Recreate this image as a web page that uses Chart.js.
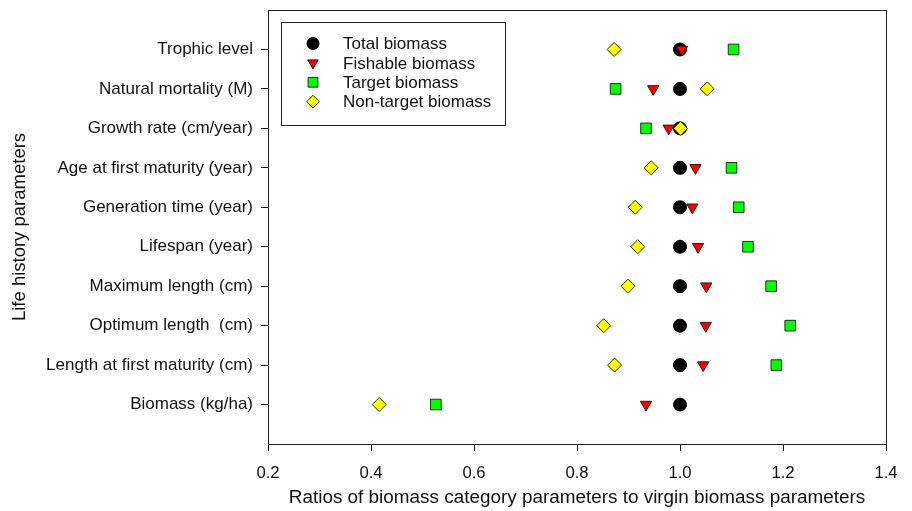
<!DOCTYPE html>
<html>
<head>
<meta charset="utf-8">
<script src="https://cdn.jsdelivr.net/npm/chart.js@4/dist/chart.umd.min.js"></script>
<style>
  html, body { margin: 0; padding: 0; background: #fff; }
  #wrap { width: 912px; height: 511px; position: relative; }
</style>
</head>
<body>
<div id="wrap"><canvas id="chart"></canvas></div>
<script>
// categories, top to bottom
const parameters = [
  'Trophic level',
  'Natural mortality (M)',
  'Growth rate (cm/year)',
  'Age at first maturity (year)',
  'Generation time (year)',
  'Lifespan (year)',
  'Maximum length (cm)',
  'Optimum length  (cm)',
  'Length at first maturity (cm)',
  'Biomass (kg/ha)'
];

const totalBiomass     = [1.000, 1.000, 1.000, 1.000, 1.000, 1.000, 1.000, 1.000, 1.000, 1.000];
const fishableBiomass  = [1.004, 0.948, 0.978, 1.030, 1.024, 1.035, 1.051, 1.050, 1.045, 0.934];
const targetBiomass    = [1.104, 0.875, 0.934, 1.100, 1.114, 1.132, 1.177, 1.214, 1.187, 0.526];
const nonTargetBiomass = [0.872, 1.053, 1.001, 0.944, 0.913, 0.918, 0.899, 0.852, 0.873, 0.416];

const xTicks = [0.2, 0.4, 0.6, 0.8, 1.0, 1.2, 1.4];

const FONT = 'Liberation Sans, Arial, sans-serif';

// y position 10 (top) .. 1 (bottom)
function toPoints(values) {
  return values.map((v, i) => ({ x: v, y: parameters.length - i }));
}

const series = [
  { label: 'Total biomass', data: totalBiomass, pointStyle: 'circle', radius: 6.5, rotation: 0, bg: '#000000', border: '#000000', order: 3 },
  { label: 'Fishable biomass', data: fishableBiomass, pointStyle: 'triangle', radius: 6.5, rotation: 180, bg: '#ff0000', border: '#3a1010', order: 2 },
  { label: 'Target biomass', data: targetBiomass, pointStyle: 'rect', radius: 7.5, rotation: 0, bg: '#00ff00', border: '#1d331d', order: 1 },
  { label: 'Non-target biomass', data: nonTargetBiomass, pointStyle: 'rectRot', radius: 7, rotation: 0, bg: '#ffff00', border: '#333300', order: 0 }
];

// box around plot area
const framePlugin = {
  id: 'frame',
  afterDraw(chart) {
    const { ctx, chartArea: a } = chart;
    ctx.save();
    ctx.strokeStyle = '#222';
    ctx.lineWidth = 1;
    ctx.strokeRect(a.left + 0.5, a.top + 0.5, a.right - a.left, a.bottom - a.top);
    ctx.restore();
  }
};

// legend in upper left corner of the plot
const boxLegend = {
  id: 'boxLegend',
  afterDraw(chart) {
    const ctx = chart.ctx;
    const left = 281, top = 22, width = 224, height = 103;
    ctx.save();
    ctx.fillStyle = '#fff';
    ctx.fillRect(left, top, width, height);
    ctx.strokeStyle = '#222';
    ctx.lineWidth = 1;
    ctx.strokeRect(left + 0.5, top + 0.5, width, height);
    ctx.font = '17px ' + FONT;
    ctx.textBaseline = 'middle';
    series.forEach((s, i) => {
      const y = 43.5 + i * 19.4;
      ctx.fillStyle = s.bg;
      ctx.strokeStyle = s.border;
      ctx.lineWidth = 1;
      Chart.helpers.drawPoint(ctx, { pointStyle: s.pointStyle, rotation: s.rotation, radius: s.radius * 0.92, borderWidth: 1 }, 313, y);
      ctx.fillStyle = '#111';
      ctx.fillText(s.label, 343, y + 1);
    });
    ctx.restore();
  }
};

new Chart(document.getElementById('chart'), {
  type: 'scatter',
  data: {
    datasets: series.map(s => ({
      label: s.label,
      data: toPoints(s.data),
      pointStyle: s.pointStyle,
      pointRadius: s.radius,
      pointRotation: s.rotation,
      pointBackgroundColor: s.bg,
      pointBorderColor: s.border,
      pointBorderWidth: 1,
      order: s.order
    }))
  },
  options: {
    responsive: true,
    maintainAspectRatio: false,
    animation: false,
    layout: { padding: { left: 0, top: 10, right: 26, bottom: 0 } },
    plugins: {
      legend: { display: false },
      tooltip: { enabled: false }
    },
    scales: {
      x: {
        type: 'linear',
        min: 0.2,
        max: 1.4,
        afterFit: s => { s.height = 67; },
        afterBuildTicks: s => { s.ticks = xTicks.map(v => ({ value: v })); },
        ticks: {
          callback: v => v.toFixed(1),
          color: '#111',
          font: { family: FONT, size: 16.7 },
          padding: 12,
          maxRotation: 0
        },
        grid: { drawOnChartArea: false, drawTicks: true, tickLength: 7, color: '#111' },
        border: { display: true, color: '#111' },
        title: {
          display: true,
          text: 'Ratios of biomass category parameters to virgin biomass parameters',
          color: '#111',
          font: { family: FONT, size: 18.9 },
          padding: { top: 0, bottom: 2 }
        }
      },
      y: {
        type: 'linear',
        min: 0,
        max: 11,
        afterFit: s => { s.width = 268; s.paddingTop = 0; s.paddingBottom = 0; },
        afterBuildTicks: s => {
          s.ticks = parameters.map((p, i) => ({ value: parameters.length - i }));
        },
        ticks: {
          callback: v => parameters[parameters.length - v],
          color: '#111',
          font: { family: FONT, size: 17 },
          padding: 8
        },
        grid: { drawOnChartArea: false, drawTicks: true, tickLength: 7, color: '#111' },
        border: { display: true, color: '#111' },
        title: {
          display: true,
          text: 'Life history parameters',
          color: '#111',
          font: { family: FONT, size: 18.5 },
          padding: { top: 9, bottom: 0 }
        }
      }
    }
  },
  plugins: [framePlugin, boxLegend]
});
</script>
</body>
</html>
